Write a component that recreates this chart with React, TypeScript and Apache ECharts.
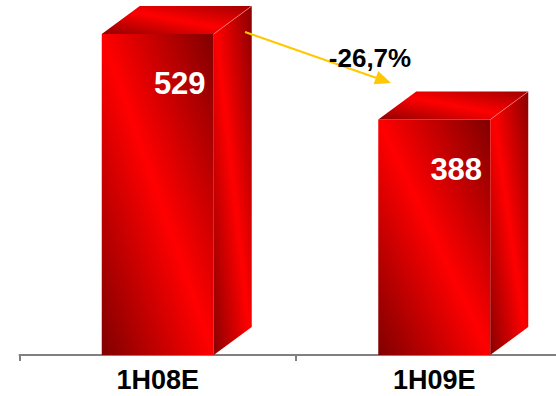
import React, { useEffect, useRef } from "react";
import * as echarts from "echarts";

const categories: string[] = ["1H08E", "1H09E"];
const values: number[] = [529, 388];
const changePct: number = (values[1] / values[0] - 1) * 100;
const changeLabel: string = changePct.toFixed(1).replace(".", ",") + "%";

const FONT = '"Liberation Sans", Arial, Helvetica, sans-serif';
const DX = 38;
const DY = -28;
// visible part of the category axis (in category units; band 0 starts at -0.5)
const X_MIN = -0.5;
const X_MAX = 1.4403;

function faceGradient() {
  return new echarts.graphic.LinearGradient(0, 1, 1, 0, [
    { offset: 0, color: "#800000" },
    { offset: 0.5, color: "#ff0000" },
    { offset: 1, color: "#800000" },
  ]);
}
function sideGradient() {
  return new echarts.graphic.LinearGradient(0, 1, 1, 0, [
    { offset: 0, color: "#8a0000" },
    { offset: 0.5, color: "#ff0000" },
    { offset: 1, color: "#8a0000" },
  ]);
}
function topGradient() {
  return new echarts.graphic.LinearGradient(0, 1, 1, 0, [
    { offset: 0, color: "#900000" },
    { offset: 0.5, color: "#ff0000" },
    { offset: 1, color: "#a00000" },
  ]);
}

export default function App() {
  const ref = useRef<HTMLDivElement>(null);
  useEffect(() => {
    if (!ref.current) return;
    const chart = echarts.init(ref.current, undefined, { renderer: "svg" });
    const renderItem = (params: any, api: any) => {
      const idx = api.value(0);
      const val = api.value(1);
      const top = api.coord([idx, val]);
      const base = api.coord([idx, 0]);
      const band = api.size([1, 0])[0];
      const w = band * 0.405;
      const xl = top[0] - w / 2;
      const xr = top[0] + w / 2;
      const yt = top[1];
      const yb = base[1];
      return {
        type: "group",
        children: [
          {
            type: "polygon",
            shape: { points: [[xl, yt], [xr, yt], [xr, yb], [xl, yb]] },
            style: { fill: faceGradient() },
          },
          {
            type: "polygon",
            shape: {
              points: [[xr, yt], [xr + DX, yt + DY], [xr + DX, yb + DY], [xr, yb]],
            },
            style: { fill: sideGradient() },
          },
          {
            type: "polygon",
            shape: {
              points: [[xl, yt], [xr, yt], [xr + DX, yt + DY], [xl + DX, yt + DY]],
            },
            style: { fill: topGradient() },
          },
          {
            type: "line",
            shape: { x1: xr, y1: yt, x2: xr + DX, y2: yt + DY },
            style: { stroke: "#ff9090", lineWidth: 0.8, opacity: 0.8 },
          },
          {
            type: "text",
            style: {
              text: String(val),
              x: top[0] + 22,
              y: yt + 50,
              fill: "#ffffff",
              fontSize: 31,
              fontWeight: "bold",
              fontFamily: FONT,
              align: "center",
              verticalAlign: "middle",
            },
          },
        ],
      };
    };

    // arrow (annotation)
    const sx = 245, sy = 32, tx = 391, ty = 83;
    const L = Math.hypot(tx - sx, ty - sy);
    const ux = (tx - sx) / L, uy = (ty - sy) / L;
    const head = 16, half = 7;
    const bx = tx - ux * head, by = ty - uy * head;

    chart.setOption({
      animation: false,
      backgroundColor: "#ffffff",
      grid: { left: 19.5, right: 0, top: 0, bottom: 41, containLabel: false },
      xAxis: {
        type: "value",
        min: X_MIN,
        max: X_MAX,
        axisLine: { show: true, onZero: false, lineStyle: { color: "#808080", width: 2 } },
        axisTick: {
          show: true,
          length: 6,
          customValues: categories.map((_, i) => i - 0.5),
          lineStyle: { color: "#808080", width: 2 },
        },
        axisLabel: {
          show: true,
          customValues: categories.map((_, i) => i),
          formatter: (v: number) => categories[Math.round(v)] ?? "",
          color: "#000000",
          fontSize: 27,
          fontWeight: "bold",
          fontFamily: FONT,
          margin: 11,
          showMinLabel: true,
          showMaxLabel: true,
        },
        splitLine: { show: false },
      },
      yAxis: {
        type: "value",
        min: 0,
        max: 585,
        show: false,
        splitLine: { show: false },
      },
      series: [
        {
          type: "custom",
          renderItem,
          data: values.map((v, i) => [i, v]),
          clip: false,
        },
      ],
      graphic: [
        {
          type: "line",
          shape: { x1: sx, y1: sy, x2: bx, y2: by },
          style: { stroke: "#ffc800", lineWidth: 2 },
          z: 100,
        },
        {
          type: "polygon",
          shape: {
            points: [
              [tx, ty],
              [bx - uy * half, by + ux * half],
              [bx + uy * half, by - ux * half],
            ],
          },
          style: { fill: "#ffc800" },
          z: 100,
        },
        {
          type: "text",
          x: 370,
          y: 58,
          style: {
            text: changeLabel,
            fill: "#000000",
            fontSize: 26,
            fontWeight: "bold",
            fontFamily: FONT,
            align: "center",
            verticalAlign: "middle",
          },
          z: 101,
        },
      ],
    });
    return () => chart.dispose();
  }, []);
  return (
    <div
      ref={ref}
      style={{ position: "absolute", left: 0, top: 0, width: 556, height: 396, background: "#fff" }}
    />
  );
}
